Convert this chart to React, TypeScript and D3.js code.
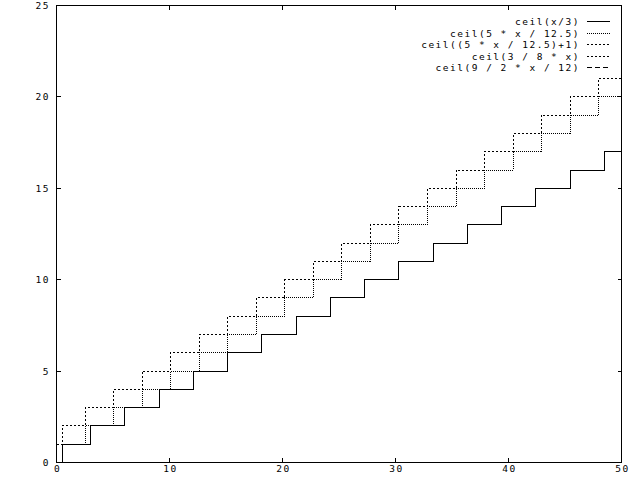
import React from "react";
import * as d3 from "d3";

// Breakpoints (sample x where the step changes) and levels
const solidX = [0, 0.505, 3.03, 6.061, 9.091, 12.121, 15.152, 18.182, 21.212, 24.242, 27.273, 30.303, 33.333, 36.364, 39.394, 42.424, 45.455, 48.485];
const solidY = [0, 1, 2, 3, 4, 5, 6, 7, 8, 9, 10, 11, 12, 13, 14, 15, 16, 17];
const dottedX = [0, 0.505, 2.525, 5.051, 7.576, 10.101, 12.626, 15.152, 17.677, 20.202, 22.727, 25.253, 27.778, 30.303, 32.828, 35.354, 37.879, 40.404, 42.929, 45.455, 47.98];
const dottedY = [0, 1, 2, 3, 4, 5, 6, 7, 8, 9, 10, 11, 12, 13, 14, 15, 16, 17, 18, 19, 20];
const dashedX = dottedX;
const dashedY = [1, 2, 3, 4, 5, 6, 7, 8, 9, 10, 11, 12, 13, 14, 15, 16, 17, 18, 19, 20, 21];
const zeroX = [0];
const zeroY = [0];
const longX = solidX;
const longY = solidY;

const seriesNames = [
  "ceil(x/3)",
  "ceil(5 * x / 12.5)",
  "ceil((5 * x / 12.5)+1)",
  "ceil(3 / 8 * x)",
  "ceil(9 / 2 * x / 12)",
];
const xTicks = [0, 10, 20, 30, 40, 50];
const yTicks = [0, 5, 10, 15, 20, 25];
const X_MAX = 50;

const dashes = ["none", "1,1", "2,2", "2,2", "5,3"];

export default function App() {
  const x = d3.scaleLinear().domain([0, 50]).range([56.5, 621.5]);
  const y = d3.scaleLinear().domain([0, 25]).range([462.5, 5.5]);
  const line = d3
    .line<[number, number]>()
    .x((d) => x(d[0]))
    .y((d) => y(d[1]))
    .curve(d3.curveStepAfter);

  const build = (xs: number[], ys: number[]): [number, number][] => {
    const pts: [number, number][] = xs.map((v, i) => [v, ys[i]]);
    pts.push([X_MAX, ys[ys.length - 1]]);
    return pts;
  };
  const series = [
    build(solidX, solidY),
    build(dottedX, dottedY),
    build(dashedX, dashedY),
    build(zeroX, zeroY),
    build(longX, longY),
  ];

  const font = {
    fontFamily: "'DejaVu Sans Mono', monospace",
    fontSize: 9.5,
    letterSpacing: 1.5,
  } as React.CSSProperties;

  return (
    <svg
      width={640}
      height={480}
      style={{ position: "absolute", left: 0, top: 0, background: "#fff" }}
    >
      <rect x={0} y={0} width={640} height={480} fill="#fff" />
      {series.map((s, i) => (
        <path
          key={i}
          d={line(s) || ""}
          fill="none"
          stroke="#000"
          strokeWidth={1}
          strokeDasharray={dashes[i]}
          shapeRendering="crispEdges"
        />
      ))}
      <rect
        x={x(0)}
        y={y(25)}
        width={x(50) - x(0)}
        height={y(0) - y(25)}
        fill="none"
        stroke="#000"
        shapeRendering="crispEdges"
      />
      {xTicks.map((t) => (
        <g key={"x" + t}>
          <line x1={x(t)} x2={x(t)} y1={y(0)} y2={y(0) - 5} stroke="#000" shapeRendering="crispEdges" />
          <line x1={x(t)} x2={x(t)} y1={y(25)} y2={y(25) + 4} stroke="#000" shapeRendering="crispEdges" />
          <text x={x(t) + 1} y={472} textAnchor="middle" style={font}>
            {t}
          </text>
        </g>
      ))}
      {yTicks.map((t) => (
        <g key={"y" + t}>
          <line x1={x(0)} x2={x(0) + 4} y1={y(t)} y2={y(t)} stroke="#000" shapeRendering="crispEdges" />
          <line x1={x(50)} x2={x(50) - 4} y1={y(t)} y2={y(t)} stroke="#000" shapeRendering="crispEdges" />
          <text x={50} y={y(t) + 3.5} textAnchor="end" style={font}>
            {t}
          </text>
        </g>
      ))}
      {seriesNames.map((name, i) => {
        const ly = Math.round(21 + 11.6 * i) + 0.5;
        return (
          <g key={"l" + i}>
            <text x={580} y={ly + 3.5} textAnchor="end" style={font}>
              {name}
            </text>
            <line
              x1={587}
              x2={610}
              y1={ly}
              y2={ly}
              stroke="#000"
              strokeDasharray={dashes[i]}
              shapeRendering="crispEdges"
            />
          </g>
        );
      })}
    </svg>
  );
}
